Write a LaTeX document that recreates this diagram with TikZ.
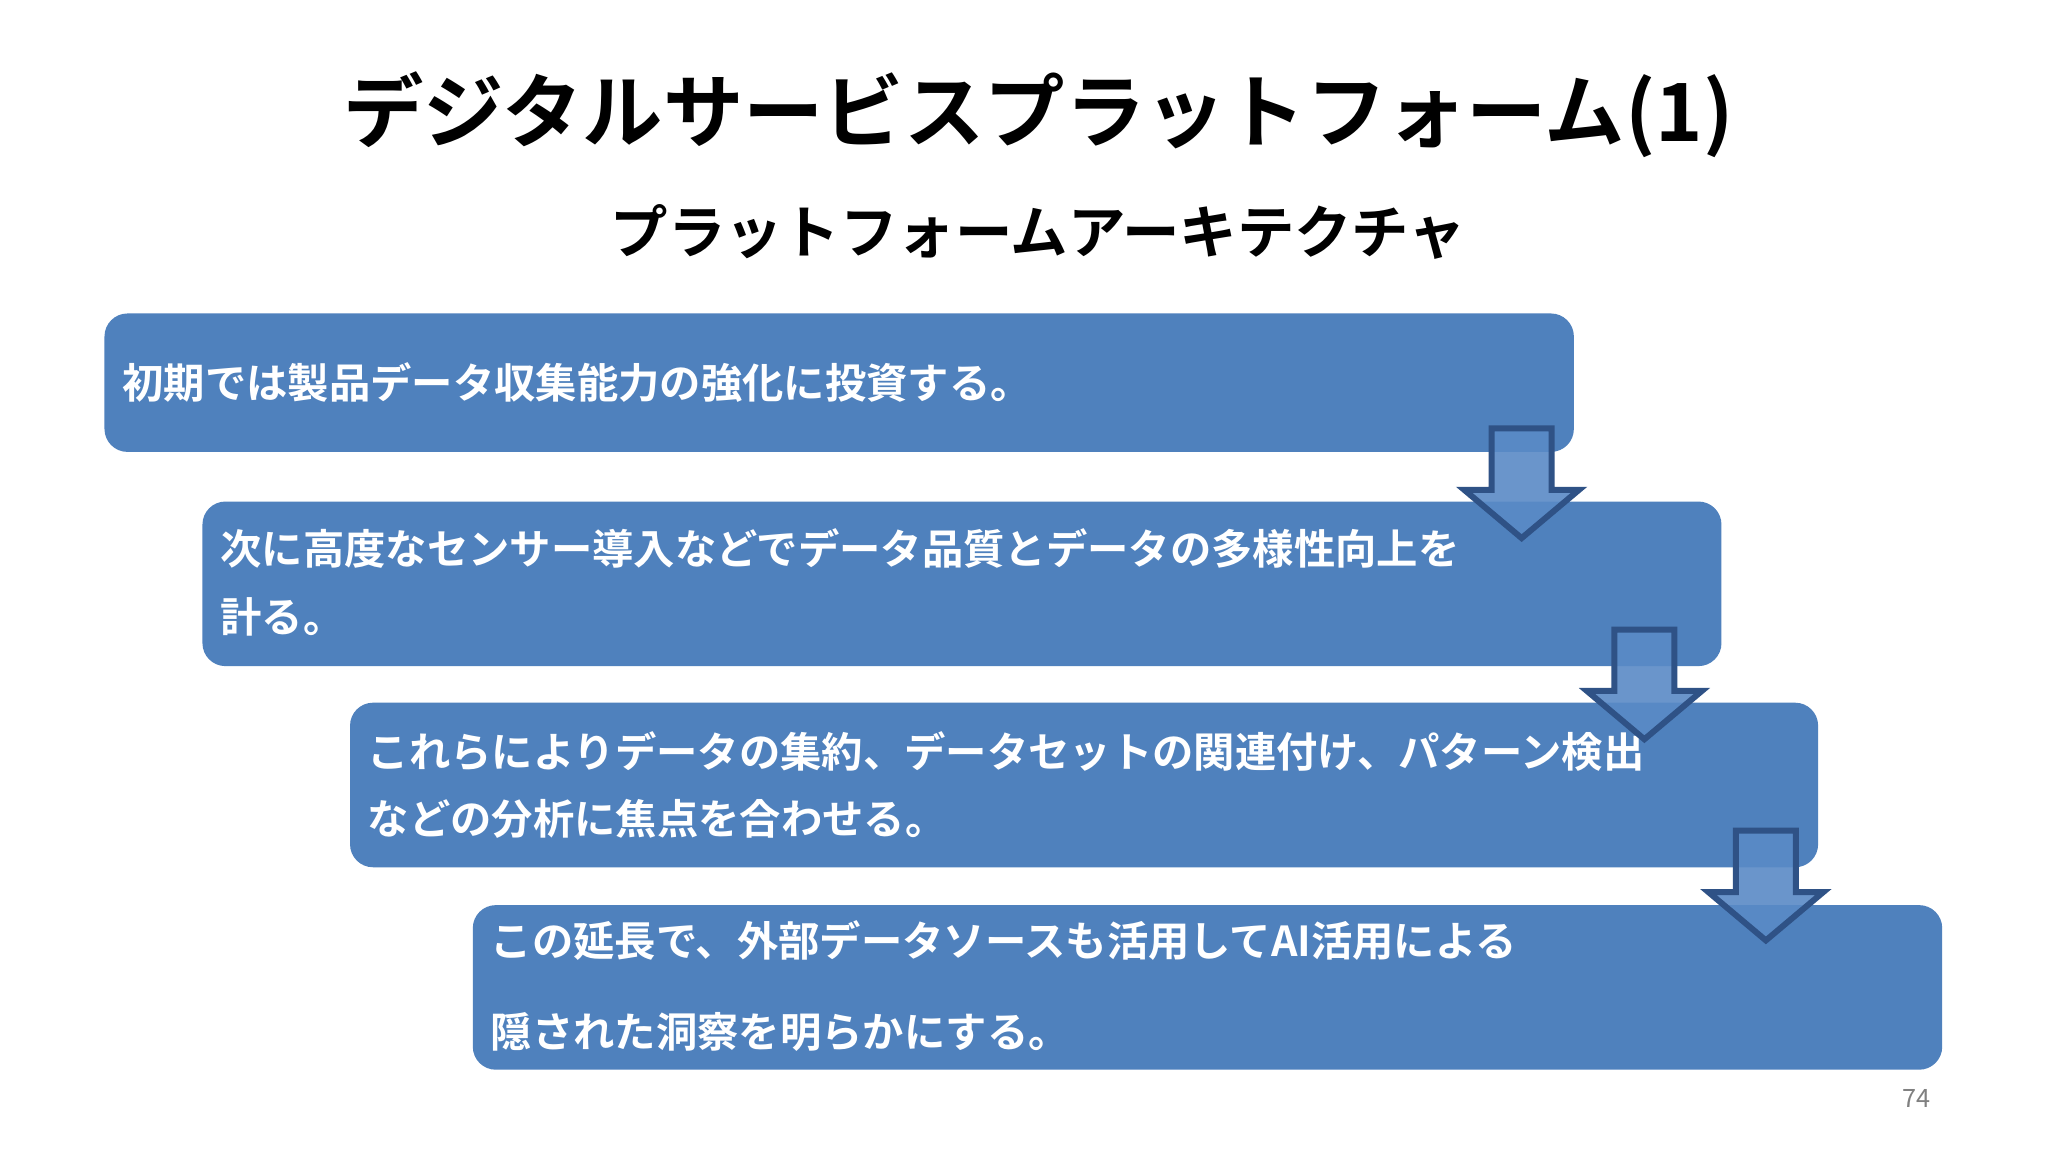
\documentclass[tikz,border=0pt]{standalone}
\usepackage{fontspec}
\setmainfont{Noto Sans CJK JP}[BoldFont={* Bold}]
\newfontfamily\jpb{Noto Sans CJK JP Bold}
\definecolor{boxblue}{HTML}{4F81BD}
\definecolor{arrline}{HTML}{2F5286}
\definecolor{arrfill}{HTML}{5A8AC6}
\begin{document}
\begin{tikzpicture}[x=0.01cm,y=-0.01cm,
  stepbox/.style={fill=boxblue,rounded corners=5pt,draw=none},
  boxtext/.style={anchor=west,text=white,font=\jpb\fontsize{9}{11}\selectfont,inner sep=0pt},
  downarrow/.style={draw=arrline,line width=1.3pt,fill=arrfill,fill opacity=0.9,line join=miter}]
\useasboundingbox[fill=white] (0,0) rectangle (1568,882);
\node[font=\jpb\fontsize{17.5}{20}\selectfont] (title) at (795,88) {デジタルサービスプラットフォーム(1)};
\node[font=\jpb\fontsize{12.5}{15}\selectfont] (sub) at (795,178) {プラットフォームアーキテクチャ};
\fill[stepbox] (80,240) rectangle (1205,346);
\fill[stepbox] (155,384) rectangle (1318,510);
\fill[stepbox] (268,538) rectangle (1392,664);
\fill[stepbox] (362,693) rectangle (1487,819);
\node[boxtext] (t1) at (93,293) {初期では製品データ収集能力の強化に投資する。};
\node[boxtext] (t2a) at (168,420) {次に高度なセンサー導入などでデータ品質とデータの多様性向上を};
\node[boxtext] (t2b) at (168,472) {計る。};
\node[boxtext] (t3a) at (281,575) {これらによりデータの集約、データセットの関連付け、パターン検出};
\node[boxtext] (t3b) at (281,627) {などの分析に焦点を合わせる。};
\node[boxtext] (t4a) at (375,720) {この延長で、外部データソースも活用してAI活用による};
\node[boxtext] (t4b) at (375,790) {隠された洞察を明らかにする。};
\foreach \cx/\ty in {1165/328, 1259/482, 1352/636}{
  \draw[downarrow] (\cx-23,\ty) -- (\cx+23,\ty) -- (\cx+23,\ty+47) -- (\cx+44,\ty+47)
    -- (\cx,\ty+84) -- (\cx-44,\ty+47) -- (\cx-23,\ty+47) -- cycle;
}
\node[text=gray,font=\fontsize{5.5}{6}\selectfont] (pg) at (1467,841) {74};
\end{tikzpicture}
\end{document}
